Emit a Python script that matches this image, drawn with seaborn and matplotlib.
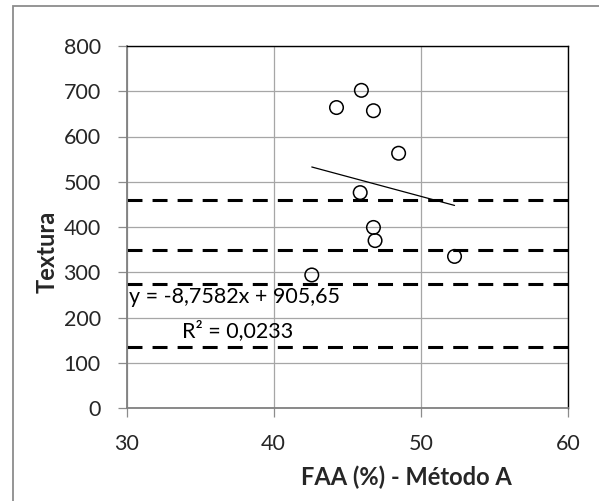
import numpy as np
import pandas as pd
import matplotlib
matplotlib.use("Agg")
import matplotlib.pyplot as plt
from matplotlib.patches import Rectangle
import seaborn as sns

# Data
faa = [44.27, 45.96, 46.78, 48.49, 45.88, 46.78, 46.89, 52.29, 42.59]
textura = [664, 702, 657, 563, 476, 399, 370, 335, 294]
ref_lines = [459, 350, 275, 134]
slope = -8.7582
intercept = 905.65
r2_text = "R² = 0,0233"
eq_text = "y = -8,7582x + 905,65"
x_ticks = [30, 40, 50, 60]
y_ticks = [0, 100, 200, 300, 400, 500, 600, 700, 800]

sns.set_style("white")
plt.rcParams["font.family"] = ["Lato", "DejaVu Sans"]

fig = plt.figure(figsize=(5.99, 5.01), dpi=100)
ax = fig.add_axes([126.5 / 599, 1 - 408 / 501, (568 - 126.5) / 599, (408 - 46) / 501])

df = pd.DataFrame({"FAA": faa, "Textura": textura})

ax.set_xlim(30, 60)
ax.set_ylim(0, 800)
ax.set_xticks(x_ticks)
ax.set_yticks(y_ticks)
ax.grid(True, color="#a6a6a6", linewidth=0.9, zorder=0)
ax.set_axisbelow(True)

# reference dashed lines
for v in ref_lines:
    ax.axhline(v, color="black", linewidth=2.2, dashes=(4.9, 3.3), zorder=2)

# trendline
xs = np.array([min(faa), max(faa)])
trend = pd.DataFrame({"x": xs, "y": intercept + slope * xs})
sns.lineplot(data=trend, x="x", y="y", ax=ax, color="black", linewidth=0.9, zorder=3)

# scatter
sns.scatterplot(data=df, x="FAA", y="Textura", ax=ax, marker="o", s=95,
                facecolor="none", edgecolor="black", linewidth=1.1, zorder=4)

ax.text(30.15, 245, eq_text, ha="left", va="center", fontsize=15.5, color="black", zorder=5)
ax.text(33.8, 170, r2_text, ha="left", va="center", fontsize=15.5, color="black", zorder=5)

ax.set_xlabel("FAA (%) - Método A", fontsize=17, fontweight="bold")
ax.set_ylabel("Textura", fontsize=17, fontweight="bold")
ax.xaxis.set_label_coords(0.633, -0.158)
ax.yaxis.set_label_coords(-0.153, 0.43)

ax.tick_params(axis="both", which="major", labelsize=15.5, length=6.5, width=0.9,
               color="#8c8c8c", direction="out", left=True, bottom=True)
ax.tick_params(axis="y", pad=12)
ax.tick_params(axis="x", pad=12)

for side in ["left", "bottom"]:
    ax.spines[side].set_color("#808080")
    ax.spines[side].set_linewidth(1.3)
for side in ["top", "right"]:
    ax.spines[side].set_color("black")
    ax.spines[side].set_linewidth(1.0)

# outer chart border
fig.patches.append(Rectangle((13 / 599, -0.05), 1.2, 1 - 6 / 501 + 0.05,
                             transform=fig.transFigure, fill=False,
                             edgecolor="#8c8c8c", linewidth=1.3))

fig.savefig("out.png", dpi=100)
